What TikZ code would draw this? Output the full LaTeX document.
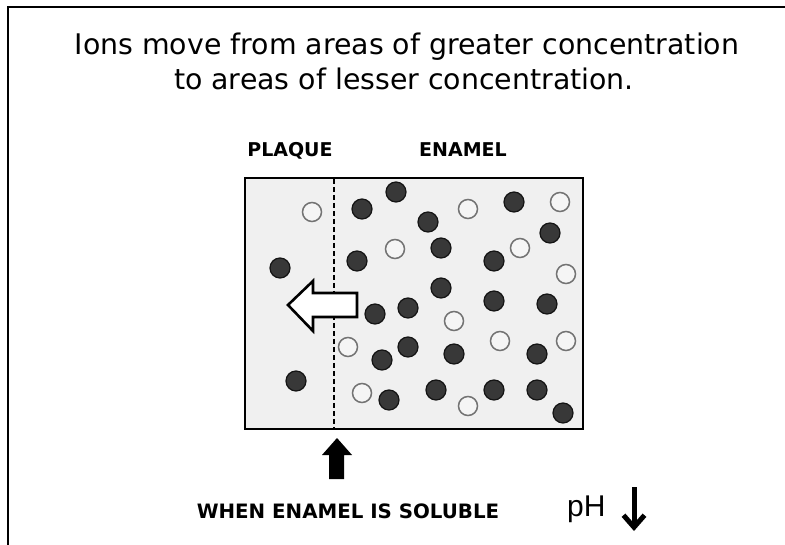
\documentclass[tikz,border=0pt]{standalone}
\usepackage{fontspec}
\setmainfont{DejaVu Sans}
\newfontfamily\phfont{Liberation Sans}
\usetikzlibrary{arrows.meta}
\tikzstyle{heading} = [inner sep=0pt, anchor=base, font=\fontsize{28.4}{35}\selectfont]
\tikzstyle{zonetag} = [inner sep=0pt, anchor=base, font=\fontsize{19}{22}\selectfont\bfseries]
\tikzstyle{ion} = [circle, minimum size=20pt, inner sep=0pt, line width=1.2pt, draw=black!92, fill=black!78]
\tikzstyle{freeion} = [circle, minimum size=19pt, inner sep=0pt, line width=1.5pt, draw=black!55, fill=black!4]
\tikzstyle{flow} = [line width=2.6pt, draw=black, fill=white, line join=miter]

\begin{document}
\begin{tikzpicture}[x=1pt, y=-1pt]
  \useasboundingbox (0,0) rectangle (785,545);
  % Rahmen
  \draw[line width=2.5pt] (8,545) -- (8,7) -- (785,7);

  % Überschrift
  \node[heading] (title1) at (407,55) {Ions move from areas of greater concentration};
  \node[heading] (title2) at (404,90) {to areas of lesser concentration.};

  % Zonen
  \node[zonetag] (plaque) at (290,157) {PLAQUE};
  \node[zonetag] (enamel) at (463,157) {ENAMEL};
  \draw[line width=2.6pt, fill=black!6] (245,178) rectangle (583,429);
  \draw[line width=2.2pt, dash pattern=on 5pt off 3pt] (334,179) -- (334,428);

  % Ionen
  \foreach \px/\py [count=\i] in {396/192, 362/209, 428/222, 514/202, 550/233, 441/248,
      494/261, 280/268, 357/261, 441/288, 494/301, 547/304, 408/308, 375/314, 408/347,
      382/360, 454/354, 537/354, 296/381, 436/390, 494/390, 537/390, 389/400, 563/413}
    \node[ion] (d\i) at (\px,\py) {};
  \foreach \px/\py [count=\i] in {312/212, 468/209, 560/202, 395/249, 520/248, 566/274,
      454/321, 348/347, 500/341, 566/341, 362/393, 468/406}
    \node[freeion] (o\i) at (\px,\py) {};

  % Pfeil nach links
  \draw[flow] (288,305) -- (313,281) -- (313,293) -- (357,293) -- (357,317)
    -- (313,317) -- (313,331) -- cycle;

  % Pfeil nach oben
  \fill (337,438) -- (352,455) -- (344,455) -- (344,479) -- (329,479) -- (329,455)
    -- (322,455) -- cycle;

  % Unten
  \node[zonetag, font=\fontsize{19.8}{22}\selectfont\bfseries] (soluble) at (348,518) {WHEN ENAMEL IS SOLUBLE};
  \node[inner sep=0pt, anchor=base west, font=\phfont\fontsize{30}{34}\selectfont] (ph) at (567,516) {pH};
  \coordinate (phtop) at (634,487);
  \coordinate (phend) at (634,531);
  \draw[line width=5pt, -{Straight Barb[length=12pt, width=21pt, line width=5pt]}] (phtop) -- (phend);
\end{tikzpicture}
\end{document}
